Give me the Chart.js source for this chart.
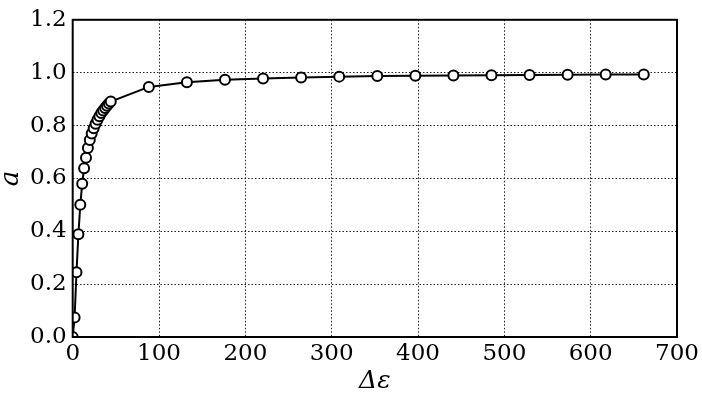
<!DOCTYPE html>
<html>
<head>
<meta charset="utf-8">
<script src="https://cdn.jsdelivr.net/npm/chart.js@4.4.1/dist/chart.umd.min.js"></script>
<style>
  html, body { margin: 0; padding: 0; background: #fff; }
  #wrap { width: 702px; height: 398px; position: relative; }
</style>
</head>
<body>
<div id="wrap"><canvas id="c" width="702" height="398"></canvas></div>
<script>
// Δε values (x) and order parameter a (y)
const deltaEps = [
  0, 2.2, 4.4, 6.6, 8.8, 11.0, 13.2, 15.4, 17.6, 19.8,
  22.0, 24.3, 26.5, 28.7, 30.9, 33.1, 35.3, 37.5, 39.7, 41.9, 44.1,
  88.2, 132.3, 176.4, 220.5, 264.6, 308.7, 352.8, 396.9, 441.0,
  485.1, 529.2, 573.3, 617.4, 661.5
];
const aValues = [
  0.000, 0.074, 0.245, 0.389, 0.500, 0.580, 0.638, 0.678, 0.715, 0.745,
  0.770, 0.790, 0.807, 0.822, 0.835, 0.847, 0.857, 0.866, 0.875, 0.883, 0.891,
  0.946, 0.964, 0.973, 0.978, 0.982, 0.985, 0.987, 0.988, 0.989,
  0.990, 0.991, 0.992, 0.993, 0.993
];
const xTicks = [0, 100, 200, 300, 400, 500, 600, 700];
const yTicks = [0.0, 0.2, 0.4, 0.6, 0.8, 1.0, 1.2];

const FONT = "'DejaVu Serif', 'Liberation Serif', serif";

const points = deltaEps.map((x, i) => ({ x: x, y: aValues[i] }));

const frame = {
  id: 'frame',
  afterDatasetsDraw(chart) {
    const { ctx, chartArea: a } = chart;
    ctx.save();
    ctx.strokeStyle = '#000';
    ctx.lineWidth = 2;
    ctx.strokeRect(a.left, a.top, a.right - a.left, a.bottom - a.top);
    ctx.restore();
  }
};

new Chart(document.getElementById('c'), {
  type: 'scatter',
  data: {
    datasets: [{
      data: points,
      showLine: true,
      borderColor: '#000',
      borderWidth: 2,
      pointRadius: 5,
      pointBorderWidth: 2,
      pointBackgroundColor: '#fff',
      pointBorderColor: '#000',
      tension: 0
    }]
  },
  options: {
    responsive: false,
    animation: false,
    layout: { padding: { left: 0, right: 25, top: 13, bottom: 0 } },
    plugins: { legend: { display: false }, tooltip: { enabled: false } },
    scales: {
      x: {
        type: 'linear',
        min: 0, max: 700,
        afterBuildTicks(s) { s.ticks = xTicks.map(v => ({ value: v })); },
        afterFit(s) { s.height = 61; },
        grid: { color: '#222', lineWidth: 1, drawTicks: false },
        border: { display: false, dash: [1.5, 2] },
        ticks: {
          color: '#000', padding: 3,
          font: { family: FONT, size: 23 },
          callback: v => String(v)
        },
        title: {
          display: true, text: 'Δε', color: '#000',
          font: { family: FONT, size: 25, style: 'italic' },
          padding: { top: 0, bottom: 2 }
        }
      },
      y: {
        type: 'linear',
        min: 0, max: 1.2,
        afterBuildTicks(s) { s.ticks = yTicks.map(v => ({ value: v })); },
        afterFit(s) { s.width = 72.7; },
        grid: { color: '#222', lineWidth: 1, drawTicks: false },
        border: { display: false, dash: [1.5, 2] },
        ticks: {
          color: '#000', padding: 6,
          font: { family: FONT, size: 23 },
          callback: v => v.toFixed(1)
        },
        title: {
          display: true, text: 'a', color: '#000',
          font: { family: FONT, size: 26, style: 'italic' },
          padding: { top: -4, bottom: 0 }
        }
      }
    }
  },
  plugins: [frame]
});
</script>
</body>
</html>
